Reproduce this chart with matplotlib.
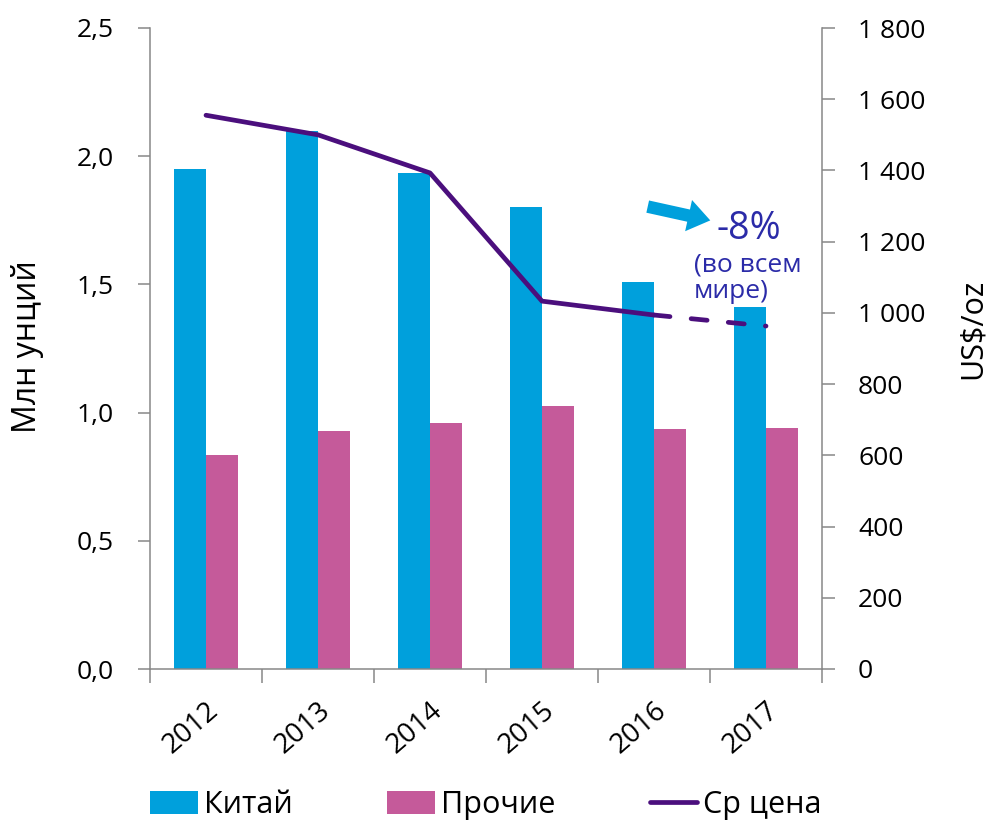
import matplotlib
matplotlib.use("Agg")
from matplotlib import pyplot as plt
from matplotlib.ticker import FuncFormatter

plt.rcParams['font.family'] = ['Open Sans', 'DejaVu Sans']

# data
years = ['2012', '2013', '2014', '2015', '2016', '2017']
kitai = [1.95, 2.10, 1.935, 1.80, 1.51, 1.41]
prochie = [0.835, 0.93, 0.96, 1.025, 0.935, 0.94]
price = [1555, 1500, 1393, 1033, 994, 963]

c_blue = '#00A0DC'
c_pink = '#C55A9A'
c_line = '#4B0F7D'
c_axis = '#878787'
c_note = '#2B2BA8'

fig = plt.figure(figsize=(9.95, 8.26), dpi=100)
ax = fig.add_axes([150/995, 157/826, 672/995, 641/826])
ax2 = ax.twinx()

x = list(range(len(years)))
w = 0.285
ax.bar([i - w/2 for i in x], kitai, w, color=c_blue, label='Китай', zorder=2)
ax.bar([i + w/2 for i in x], prochie, w, color=c_pink, label='Прочие', zorder=2)

ax2.plot(x[:5], price[:5], color=c_line, lw=3.4, solid_capstyle='round',
         solid_joinstyle='round', label='Ср цена')
dash, = ax2.plot(x[4:], price[4:], color=c_line, lw=3.4, dash_capstyle='round')
dash.set_dashes((3.4, 4.5))

ax.set_xlim(-0.5, 5.5)
ax.set_ylim(0, 2.5)
ax2.set_ylim(0, 1800)

ax.set_yticks([0, 0.5, 1.0, 1.5, 2.0, 2.5])
ax.yaxis.set_major_formatter(FuncFormatter(lambda v, p: ('%.1f' % v).replace('.', ',')))
ax2.set_yticks(range(0, 1801, 200))
ax2.yaxis.set_major_formatter(FuncFormatter(lambda v, p: '{:,}'.format(int(v)).replace(',', ' ')))

ax.set_xticks(x)
ax.set_xticklabels(years, rotation=41, ha='right', rotation_mode='anchor')
ax.set_xticks([i - 0.5 for i in range(7)], minor=True)
ax.tick_params(axis='x', which='major', length=0, pad=20, labelsize=20)
ax.tick_params(axis='x', which='minor', length=10, width=1.1, color=c_axis, direction='out')
ax.tick_params(axis='y', length=9, width=1.1, color=c_axis, pad=17, labelsize=19)
ax2.tick_params(axis='y', length=9, width=1.1, color=c_axis, pad=17, labelsize=19)
for lbl in ax.get_xticklabels():
    lbl.set_x(lbl.get_position()[0])

for a in (ax, ax2):
    a.spines['top'].set_visible(False)
    for s in ('left', 'right', 'bottom'):
        a.spines[s].set_color(c_axis)
        a.spines[s].set_linewidth(1.1)
ax.spines['right'].set_visible(False)
ax2.spines['left'].set_visible(False)
ax2.spines['bottom'].set_visible(False)

fig.text(28/995, 1 - 347/826, 'Млн унций', rotation=90, ha='center', va='center', fontsize=23)
fig.text(973/995, 1 - 329/826, 'US$/oz', rotation=90, ha='center', va='center', fontsize=22)

# annotation
ax.annotate('', xy=(713, 826 - 221), xytext=(645, 826 - 206),
            xycoords='figure pixels', textcoords='figure pixels',
            arrowprops=dict(arrowstyle='simple,head_length=0.8,head_width=1.15,tail_width=0.45',
                            mutation_scale=20, color=c_blue, lw=0))
fig.text(717/995, 1 - 239/826, '-8%', fontsize=27, color=c_note, ha='left', va='baseline')
fig.text(694/995, 1 - 272/826, '(во всем', fontsize=19, color=c_note, ha='left', va='baseline')
fig.text(694/995, 1 - 298/826, 'мире)', fontsize=19, color=c_note, ha='left', va='baseline')

h1, l1 = ax.get_legend_handles_labels()
h2, l2 = ax2.get_legend_handles_labels()
fig.legend(h1 + h2, l1 + l2, loc='center', bbox_to_anchor=(486/995, 1 - 805/826), ncol=3,
           frameon=False, fontsize=22, handlelength=1.55, handleheight=0.8,
           handletextpad=0.2, columnspacing=3.1)

fig.savefig('out.png', dpi=100)
